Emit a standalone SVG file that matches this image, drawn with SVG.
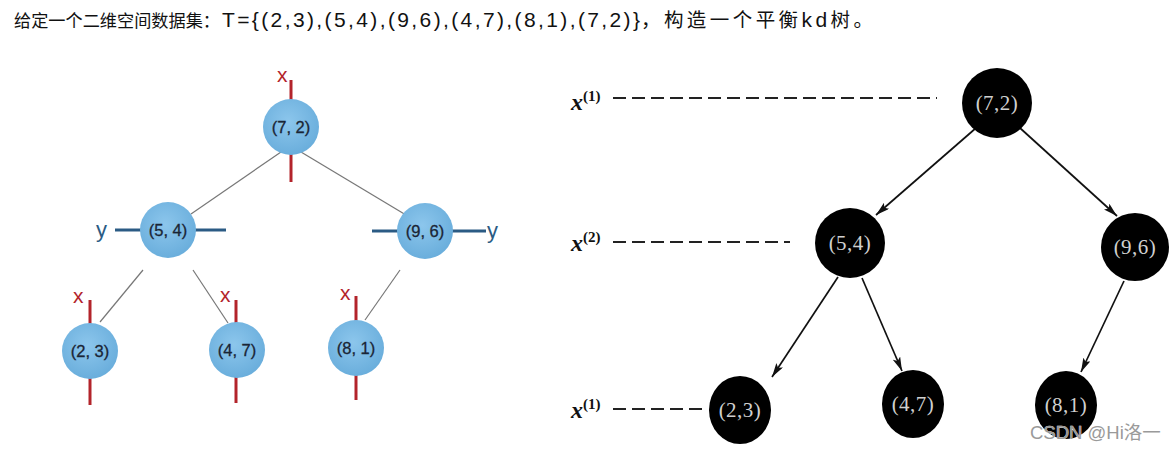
<svg xmlns="http://www.w3.org/2000/svg" width="1175" height="450" viewBox="0 0 1175 450">
<defs>
<radialGradient id="blue" cx="45%" cy="40%" r="60%">
<stop offset="0" stop-color="#8cc6ec"/>
<stop offset="1" stop-color="#6aaedc"/>
</radialGradient>
<marker id="arr" viewBox="0 0 14 8" refX="14" refY="4" markerWidth="14" markerHeight="8" markerUnits="userSpaceOnUse" orient="auto">
<path d="M0,0 L14,4 L0,8 L3,4 Z" fill="#111"/>
</marker>
<style>
.title{font-family:"Liberation Sans","Noto Sans CJK SC",sans-serif;fill:#111}
.cj{font-size:17.5px}
.cj2{font-size:19.5px}
.la{font-size:21px}
.bn circle{fill:url(#blue)}
.bt{font-family:"Liberation Sans",sans-serif;font-size:16.5px;fill:#1a2535;text-anchor:middle;stroke:#1a2535;stroke-width:0.3}
.red{stroke:#b3242b;stroke-width:3}
.blu{stroke:#2b5b84;stroke-width:3}
.xl{font-family:"Liberation Sans",sans-serif;font-size:21px;fill:#b3242b}
.yl{font-family:"Liberation Sans",sans-serif;font-size:22px;fill:#2b5b84}
.gl{stroke:#777;stroke-width:1.2;fill:none}
.kn{fill:#000}
.kt{font-family:"Liberation Serif",serif;font-size:21px;fill:#d0d0d0;text-anchor:middle;letter-spacing:0.5px}
.ar{stroke:#111;stroke-width:1.7;fill:none;marker-end:url(#arr)}
.dl{stroke:#222;stroke-width:2;stroke-dasharray:13,6;fill:none}
.lab{font-family:"Liberation Serif",serif;font-style:italic;font-size:24px;fill:#111;font-weight:bold}
.sup{font-family:"Liberation Serif",serif;font-size:15px;fill:#111;font-style:normal;font-weight:bold}
.wm{font-family:"Liberation Sans","Noto Sans CJK SC",sans-serif;font-size:18.5px;fill:#9a9a9a;stroke:#fff;stroke-width:0.6;paint-order:stroke}
</style>
</defs>
<rect width="1175" height="450" fill="#fff"/>
<text class="title" y="27"><tspan class="cj" x="14" textLength="206" lengthAdjust="spacingAndGlyphs">给定一个二维空间数据集：</tspan><tspan class="la" x="222" textLength="418" lengthAdjust="spacing">T={(2,3),(5,4),(9,6),(4,7),(8,1),(7,2)}</tspan><tspan class="cj2" x="641" textLength="232" lengthAdjust="spacing">，构造一个平衡<tspan class="la">kd</tspan>树。</tspan></text>

<g id="left-connectors">
<line class="gl" x1="281" y1="152" x2="191" y2="214"/>
<line class="gl" x1="301" y1="152" x2="406" y2="215"/>
<line class="gl" x1="143" y1="270" x2="100" y2="322"/>
<line class="gl" x1="193" y1="270" x2="228" y2="323"/>
<line class="gl" x1="400" y1="270" x2="365" y2="320"/>
</g>

<g id="l72" class="bn">
<line class="red" x1="291" y1="80" x2="291" y2="101"/>
<line class="red" x1="291" y1="153" x2="291" y2="182"/>
<text class="xl" x="277" y="82">x</text>
<circle cx="291" cy="127" r="28"/>
<text class="bt" x="291" y="133">(7, 2)</text>
</g>
<g id="l54" class="bn">
<line class="blu" x1="115" y1="230" x2="142" y2="230"/>
<line class="blu" x1="194" y1="230" x2="226" y2="230"/>
<text class="yl" x="96" y="237">y</text>
<circle cx="168" cy="230" r="28"/>
<text class="bt" x="168" y="236">(5, 4)</text>
</g>
<g id="l96" class="bn">
<line class="blu" x1="372" y1="231" x2="399" y2="231"/>
<line class="blu" x1="451" y1="231" x2="486" y2="231"/>
<text class="yl" x="487" y="238">y</text>
<circle cx="425" cy="231" r="28"/>
<text class="bt" x="425" y="237">(9, 6)</text>
</g>
<g id="l23" class="bn">
<line class="red" x1="90" y1="300" x2="90" y2="324"/>
<line class="red" x1="90" y1="378" x2="90" y2="405"/>
<text class="xl" x="73" y="303">x</text>
<circle cx="90" cy="351" r="28"/>
<text class="bt" x="90" y="357">(2, 3)</text>
</g>
<g id="l47" class="bn">
<line class="red" x1="236" y1="300" x2="236" y2="324"/>
<line class="red" x1="236" y1="376" x2="236" y2="403"/>
<text class="xl" x="220" y="302">x</text>
<circle cx="237" cy="350" r="28"/>
<text class="bt" x="237" y="356">(4, 7)</text>
</g>
<g id="l81" class="bn">
<line class="red" x1="356" y1="296" x2="356" y2="322"/>
<line class="red" x1="356" y1="374" x2="356" y2="400"/>
<text class="xl" x="340" y="300">x</text>
<circle cx="356" cy="348" r="28"/>
<text class="bt" x="356" y="354">(8, 1)</text>
</g>

<g id="levels">
<text class="lab" x="571" y="110">x<tspan class="sup" dy="-9">(1)</tspan></text>
<line class="dl" x1="613" y1="98" x2="937" y2="98"/>
<text class="lab" x="571" y="251">x<tspan class="sup" dy="-9">(2)</tspan></text>
<line class="dl" x1="613" y1="242" x2="790" y2="242"/>
<text class="lab" x="571" y="418">x<tspan class="sup" dy="-9">(1)</tspan></text>
<line class="dl" x1="613" y1="409" x2="707" y2="409"/>
</g>

<g id="right-connectors">
<line class="ar" x1="976" y1="128" x2="876" y2="215"/>
<line class="ar" x1="1020" y1="128" x2="1117" y2="216"/>
<line class="ar" x1="838" y1="277" x2="772" y2="377"/>
<line class="ar" x1="862" y1="278" x2="902" y2="371"/>
<line class="ar" x1="1124" y1="281" x2="1081" y2="372"/>
</g>

<g id="r72"><circle class="kn" cx="997" cy="103" r="35"/><text class="kt" x="997" y="110">(7,2)</text></g>
<g id="r54"><circle class="kn" cx="850" cy="243" r="35"/><text class="kt" x="850" y="250">(5,4)</text></g>
<g id="r96"><circle class="kn" cx="1135" cy="247" r="34"/><text class="kt" x="1135" y="254">(9,6)</text></g>
<g id="r23"><ellipse class="kn" cx="740" cy="410" rx="31" ry="34"/><text class="kt" x="740" y="417">(2,3)</text></g>
<g id="r47"><ellipse class="kn" cx="913" cy="404" rx="31" ry="34"/><text class="kt" x="913" y="411">(4,7)</text></g>
<g id="r81"><ellipse class="kn" cx="1066" cy="405" rx="31" ry="34"/><text class="kt" x="1066" y="412">(8,1)</text></g>

<text class="wm" x="1030" y="439">CSDN @Hi洛一</text>
</svg>
